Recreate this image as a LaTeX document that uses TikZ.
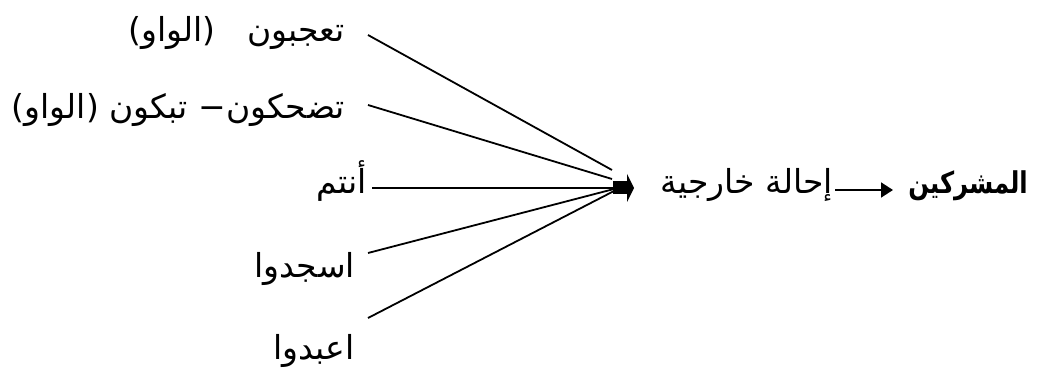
\documentclass[tikz,border=0pt]{standalone}
\usepackage{fontspec}
\usetikzlibrary{arrows.meta}
\TeXXeTstate=1
\newfontfamily\arabicfont[Script=Arabic]{DejaVu Sans}
\tikzset{
  lbl/.style={inner sep=0pt, font=\fontsize{33}{38}\arabicfont},
  boldlbl/.style={inner sep=0pt, font=\fontsize{30}{34}\arabicfont\bfseries},
  conn/.style={line width=1.8pt, black},
  hubfill/.style={fill=black},
}
\begin{document}
\begin{tikzpicture}[x=1pt,y=-1pt]
\useasboundingbox (0,0) rectangle (1041,374);
% left labels
\node[lbl, anchor=base east] (t1) at (345,42) {\beginR تعجبون\ \ \ (الواو)\endR};
\node[lbl, anchor=base east] (t2) at (345,119) {\beginR تضحكون− تبكون (الواو)\endR};
\node[lbl, anchor=base east] (t3) at (367,194) {\beginR أنتم\endR};
\node[lbl, anchor=base east] (t4) at (355,277) {\beginR اسجدوا\endR};
\node[lbl, anchor=base east] (t5) at (355,359) {\beginR اعبدوا\endR};
% middle and right labels
\node[lbl, anchor=base east] (mid) at (833,194) {\beginR إحالة خارجية\endR};
\node[boldlbl, anchor=base east] (res) at (1028,194) {\scalebox{0.81}[1]{\beginR المشركين\endR}};
% connector ends
\coordinate (s1) at (368,35);
\coordinate (s2) at (368,105);
\coordinate (s3) at (372,188);
\coordinate (s4) at (368,253);
\coordinate (s5) at (368,318);
\coordinate (e1) at (612,170);
\coordinate (e2) at (612,179);
\coordinate (e3) at (614,188);
\coordinate (e4) at (614,189);
\coordinate (e5) at (614,191);
\coordinate (hub) at (613,188);
\draw[conn] (s1) -- (e1);
\draw[conn] (s2) -- (e2);
\draw[conn] (s3) -- (e3);
\draw[conn] (s4) -- (e4);
\draw[conn] (s5) -- (e5);
% hub arrow blob
\fill[hubfill] ([yshift=-6pt]hub) rectangle ([xshift=14pt,yshift=7pt]hub);
\fill[hubfill] ([xshift=14pt,yshift=-14pt]hub) -- ([xshift=21pt]hub) -- ([xshift=14pt,yshift=14pt]hub) -- cycle;
% arrow to result
\coordinate (a1) at (835,190);
\coordinate (a2) at (893,190);
\draw[conn, -{Triangle[length=12pt,width=15pt]}] (a1) -- (a2);
\end{tikzpicture}
\end{document}
